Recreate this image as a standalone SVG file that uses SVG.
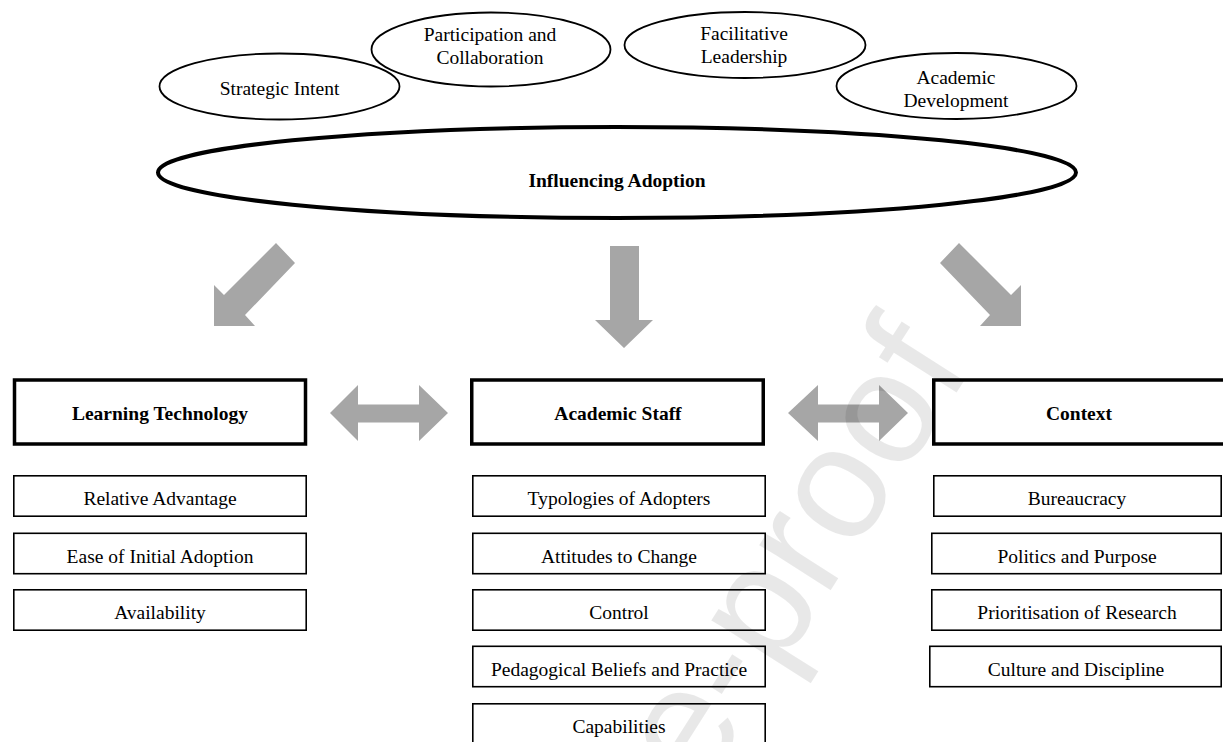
<svg xmlns="http://www.w3.org/2000/svg" width="1223" height="742" viewBox="0 0 1223 742">
  <style>
    .t { font-family: "Liberation Serif", "Times New Roman", serif; font-size: 19.5px; fill: #000; text-anchor: middle; }
    .b { font-weight: bold; }
    .oval { fill: #fff; stroke: #000; stroke-width: 1.8; }
    .big { fill: none; stroke: #000; stroke-width: 4; }
    .head { fill: #fff; stroke: #000; stroke-width: 3.5; }
    .item { fill: #fff; stroke: #000; stroke-width: 1.6; }
    .arrow { fill: #a6a6a6; stroke: none; }
    .mark { font-family: "Liberation Sans", Arial, sans-serif; font-size: 160px; fill: #000; fill-opacity: 0.09; text-anchor: end; }
  </style>
  <rect width="1223" height="742" fill="#fff"/>

  <!-- factors influencing adoption -->
  <g id="strategic-intent">
    <ellipse class="oval" cx="279.5" cy="86.5" rx="120" ry="33"/>
    <text class="t" x="279.5" y="95">Strategic Intent</text>
  </g>
  <g id="participation">
    <ellipse class="oval" cx="491" cy="49.5" rx="119.5" ry="37"/>
    <text class="t" x="490" y="41">Participation and</text>
    <text class="t" x="490" y="64">Collaboration</text>
  </g>
  <g id="facilitative-leadership">
    <ellipse class="oval" cx="745" cy="45" rx="120.5" ry="33"/>
    <text class="t" x="744" y="40">Facilitative</text>
    <text class="t" x="744" y="63">Leadership</text>
  </g>
  <g id="academic-development">
    <ellipse class="oval" cx="956.5" cy="86" rx="120" ry="33"/>
    <text class="t" x="956" y="84">Academic</text>
    <text class="t" x="956" y="107">Development</text>
  </g>
  <g id="influencing-adoption">
    <ellipse class="big" cx="617" cy="172.5" rx="459" ry="45.5"/>
    <text class="t b" x="617" y="187">Influencing Adoption</text>
  </g>

  <!-- block arrows -->
  <g id="connectors">
    <polygon class="arrow" points="276,243 295,263 245,315 255,326 214,326 214,285 224,295"/>
    <polygon class="arrow" points="610,246 639,246 639,320 653,320 624,348 595,320 610,320"/>
    <polygon class="arrow" points="959,243 940,263 990,315 980,326 1021,326 1021,285 1011,295"/>
    <polygon class="arrow" points="330,413 358,385 358,404.5 419,404.5 419,385 448,413 419,441 419,422.5 358,422.5 358,441"/>
    <polygon class="arrow" points="788,413 818,385 818,404.5 879,404.5 879,385 908,413 879,441 879,422.5 818,422.5 818,441"/>
  </g>

  <!-- learning technology column -->
  <g id="learning-technology">
    <rect class="head" x="14.5" y="380" width="291" height="64"/>
    <text class="t b" x="160" y="420">Learning Technology</text>
  </g>
  <g id="relative-advantage">
    <rect class="item" x="13.8" y="475.8" width="292.4" height="40.4"/>
    <text class="t" x="160" y="505">Relative Advantage</text>
  </g>
  <g id="ease-of-adoption">
    <rect class="item" x="13.8" y="533.3" width="292.4" height="40.4"/>
    <text class="t" x="160" y="562.5">Ease of Initial Adoption</text>
  </g>
  <g id="availability">
    <rect class="item" x="13.8" y="589.8" width="292.4" height="40.4"/>
    <text class="t" x="160" y="619">Availability</text>
  </g>

  <!-- academic staff column -->
  <g id="academic-staff">
    <rect class="head" x="471.75" y="380" width="291.5" height="64"/>
    <text class="t b" x="618" y="420">Academic Staff</text>
  </g>
  <g id="typologies">
    <rect class="item" x="472.8" y="475.8" width="292.4" height="40.4"/>
    <text class="t" x="619" y="505">Typologies of Adopters</text>
  </g>
  <g id="attitudes">
    <rect class="item" x="472.8" y="533.3" width="292.4" height="40.4"/>
    <text class="t" x="619" y="562.5">Attitudes to Change</text>
  </g>
  <g id="control">
    <rect class="item" x="472.8" y="589.8" width="292.4" height="40.4"/>
    <text class="t" x="619" y="619">Control</text>
  </g>
  <g id="pedagogical">
    <rect class="item" x="472.8" y="646.3" width="292.4" height="40.4"/>
    <text class="t" x="619" y="675.5">Pedagogical Beliefs and Practice</text>
  </g>
  <g id="capabilities">
    <rect class="item" x="472.8" y="703.8" width="292.4" height="40.4"/>
    <text class="t" x="619" y="733">Capabilities</text>
  </g>

  <!-- context column -->
  <g id="context">
    <rect class="head" x="933.75" y="380" width="292" height="64"/>
    <text class="t b" x="1079" y="420">Context</text>
  </g>
  <g id="bureaucracy">
    <rect class="item" x="933.8" y="475.8" width="287.4" height="40.4"/>
    <text class="t" x="1077" y="505">Bureaucracy</text>
  </g>
  <g id="politics">
    <rect class="item" x="931.8" y="533.3" width="289.4" height="40.4"/>
    <text class="t" x="1077" y="562.5">Politics and Purpose</text>
  </g>
  <g id="prioritisation">
    <rect class="item" x="931.8" y="589.8" width="289.4" height="40.4"/>
    <text class="t" x="1077" y="619">Prioritisation of Research</text>
  </g>
  <g id="culture">
    <rect class="item" x="929.8" y="646.3" width="291.4" height="40.4"/>
    <text class="t" x="1076" y="675.5">Culture and Discipline</text>
  </g>

  <!-- page watermark -->
  <text class="mark" transform="translate(973,367) rotate(-57.5)">Journal Pre-proof</text>
</svg>
